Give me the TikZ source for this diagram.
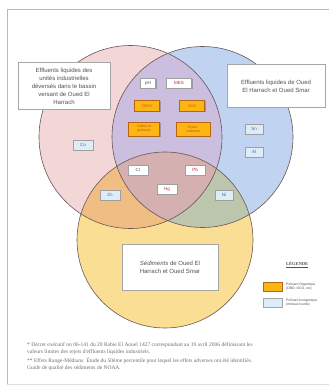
\documentclass[tikz,border=0pt]{standalone}
\usepackage{fontspec}
\setmainfont{Liberation Sans}
\newfontfamily\notefont{Liberation Serif}
\usetikzlibrary{shadows}

\definecolor{setpink}{RGB}{243,214,214}
\definecolor{setblue}{RGB}{192,211,240}
\definecolor{setyellow}{RGB}{250,222,148}
\definecolor{setlav}{RGB}{204,190,222}
\definecolor{setpeach}{RGB}{240,190,130}
\definecolor{setsage}{RGB}{188,198,172}
\definecolor{setmauve}{RGB}{212,176,176}
\definecolor{rimline}{RGB}{105,85,90}
\definecolor{orgfill}{RGB}{252,182,20}
\definecolor{orgline}{RGB}{185,100,20}
\definecolor{inorgfill}{RGB}{222,236,248}
\definecolor{alarm}{RGB}{200,40,70}
\definecolor{labeltext}{RGB}{80,80,90}
\definecolor{metaltext}{RGB}{60,110,160}
\definecolor{orgtext}{RGB}{200,80,20}

\tikzset{
  rim/.style={draw=rimline, line width=0.6pt},
  textbox/.style={draw=gray!70, fill=white, align=center, text=labeltext,
    font=\fontsize{6}{8}\selectfont, inner sep=2pt},
  chembox/.style={draw=gray!75, fill=white, text=labeltext,
    font=\fontsize{4.5}{5}\selectfont, minimum width=20pt, minimum height=10pt,
    inner sep=1pt, drop shadow={shadow xshift=1pt, shadow yshift=-1pt, opacity=0.6}},
  metalbox/.style={chembox, fill=inorgfill, text=metaltext},
  orgbox/.style={chembox, draw=orgline, fill=orgfill, text=orgtext,
    align=center, font=\fontsize{3.6}{4}\selectfont},
  swatch/.style={minimum width=19pt, minimum height=9pt, inner sep=0pt},
  legendtext/.style={anchor=west, align=left, text=labeltext,
    font=\fontsize{3.4}{4.2}\selectfont, inner sep=0pt}
}

\begin{document}
\begin{tikzpicture}[x=1pt,y=-1pt]
\useasboundingbox (0,0) rectangle (329,387);

% page frame
\draw[gray!55, line width=0.9pt] (7,384) -- (7,9) -- (329,9);
\draw[gray!25, line width=0.6pt] (7,384) -- (329,384);

% the three sets
\fill[setpink] (130.5,137) circle (91.5pt);
\fill[setblue] (202.5,137) circle (90.5pt);
\fill[setyellow] (165,240) circle (88pt);
\begin{scope}
  \clip (130.5,137) circle (91.5pt);
  \fill[setlav] (202.5,137) circle (90.5pt);
\end{scope}
\begin{scope}
  \clip (130.5,137) circle (91.5pt);
  \fill[setpeach] (165,240) circle (88pt);
\end{scope}
\begin{scope}
  \clip (202.5,137) circle (90.5pt);
  \fill[setsage] (165,240) circle (88pt);
\end{scope}
\begin{scope}
  \clip (130.5,137) circle (91.5pt);
  \clip (202.5,137) circle (90.5pt);
  \fill[setmauve] (165,240) circle (88pt);
\end{scope}
\draw[rim] (130.5,137) circle (91.5pt);
\draw[rim] (202.5,137) circle (90.5pt);
\draw[rim] (165,240) circle (88pt);

% set titles
\node[textbox, minimum width=92pt, minimum height=47pt] (industrie) at (64,86)
  {Effluents liquides des\\ unités industrielles\\ déversés dans le bassin\\ versant de Oued El\\ Harrach};
\node[textbox, minimum width=98pt, minimum height=43pt] (oueds) at (276,86)
  {Effluents liquides de Oued\\ El Harrach et Oued Smar};
\node[textbox, minimum width=96pt, minimum height=46pt] (sediments) at (170,267)
  {\textit{Sédiments} de Oued El\\ Harrach et Oued Smar};

% parameters
\node[chembox, minimum width=15pt] (ph) at (148,83) {pH};
\node[chembox, text=alarm, minimum width=25pt] (mes) at (179,83) {MES};
\node[orgbox, minimum width=25pt, minimum height=11pt] (dbo) at (147,106) {DBO5};
\node[orgbox, minimum width=25pt, minimum height=11pt] (dco) at (192,106) {DCO};
\node[orgbox, minimum width=31pt, minimum height=14pt] (huiles) at (144,129) {Huiles et\\graisses};
\node[orgbox, minimum width=34pt, minimum height=14pt] (hydro) at (193,129) {Hydro-\\carbures};

\node[chembox] (cr) at (138,170) {Cr};
\node[chembox, text=alarm] (pb) at (195,170) {Pb};
\node[chembox, text=alarm] (hg) at (167,189) {Hg};
\node[metalbox] (cu) at (83,145) {Cu};
\node[metalbox] (zn) at (110,195) {Zn};
\node[metalbox, minimum width=18pt] (sn) at (254,129) {Sn};
\node[metalbox, minimum width=18pt] (al) at (254,152) {Al};
\node[metalbox, minimum width=18pt] (ni) at (224,195) {Ni};

% legend
\node[text=labeltext, font=\notefont\bfseries\fontsize{4.5}{5}\selectfont] (legtitle) at (297,265) {\underline{LÉGENDE}};
\node[swatch, draw=orgline, fill=orgfill] (orgkey) at (272.5,286.5) {};
\node[swatch, draw=gray!70, fill=inorgfill] (inorgkey) at (272.5,302.5) {};
\node[legendtext] (orgtext) at (286,286.5) {Polluant Organique\\(DBO, DCO, etc)};
\node[legendtext] (inorgtext) at (286,302.5) {Polluant Inorganique\\(métaux lourds)};

% notes
\node[anchor=north west, align=left, inner sep=0pt, text=gray!85!black,
      font=\notefont\fontsize{5.5}{7.3}\selectfont] (notes) at (27,342)
  {* Décret exécutif no 06-141 du 20 Rabie El Aouel 1427 correspondant au 19 avril 2006 définissant les\\
   valeurs limites des rejets d'effluents liquides industriels.\\[1.5pt]
   ** Effets Range-Médians. Étude du 50ème percentile pour lequel les effets adverses ont été identifiés.\\
   Guide de qualité des sédiments de NOAA.};
\end{tikzpicture}
\end{document}
